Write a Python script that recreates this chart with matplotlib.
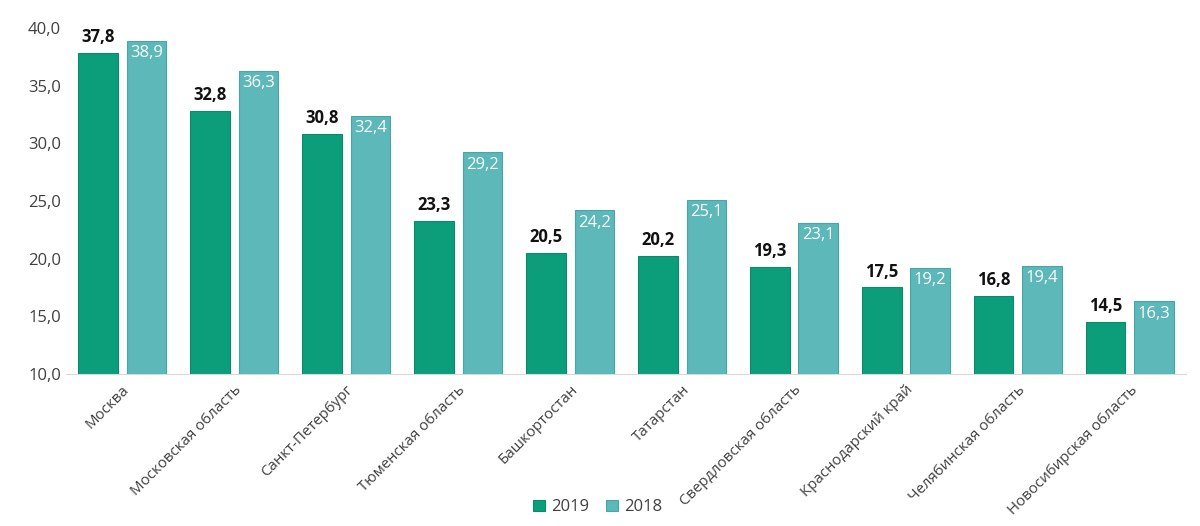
import matplotlib.pyplot as plt
import numpy as np

# data
regions = ["Москва", "Московская область", "Санкт-Петербург", "Тюменская область",
           "Башкортостан", "Татарстан", "Свердловская область", "Краснодарский край",
           "Челябинская область", "Новосибирская область"]
vals_2019 = [37.8, 32.8, 30.8, 23.3, 20.5, 20.2, 19.3, 17.5, 16.8, 14.5]
vals_2018 = [38.9, 36.3, 32.4, 29.2, 24.2, 25.1, 23.1, 19.2, 19.4, 16.3]
yticks = [10, 15, 20, 25, 30, 35, 40]

plt.rcParams['font.family'] = ['Open Sans', 'DejaVu Sans']

dark = "#0c9e7a"
light = "#5cb8b9"

fig = plt.figure(figsize=(12, 5.26), dpi=100)
ax = fig.add_axes([0.055, 0.289, 0.933, 0.658])

x = np.arange(len(regions))
w = 0.355
ax.bar(x - 0.215, np.array(vals_2019) - 10, w, bottom=10, color=dark,
       edgecolor="#0a8a6a", linewidth=0.8, label="2019")
ax.bar(x + 0.22, np.array(vals_2018) - 10, w, bottom=10, color=light,
       edgecolor="#4aa5a6", linewidth=0.8, label="2018")

# value labels: 2019 bold above, 2018 white inside
for xi, v in zip(x, vals_2019):
    ax.text(xi - 0.215, v + 0.6, f"{v:.1f}".replace(".", ","), ha="center", va="bottom",
            fontsize=12, fontweight="bold", color="#111111")
for xi, v in zip(x, vals_2018):
    ax.text(xi + 0.22, v - 0.4, f"{v:.1f}".replace(".", ","), ha="center", va="top",
            fontsize=12, color="white")

ax.set_xlim(-0.5, len(regions) - 0.5)
ax.set_ylim(10, 40)
ax.set_yticks(yticks)
ax.set_yticklabels([f"{t:.1f}".replace(".", ",") for t in yticks], fontsize=12, color="#404040")
ax.set_xticks(x)
ax.set_xticklabels(regions, rotation=45, ha="right", rotation_mode="anchor",
                   fontsize=10.8, color="#404040")
ax.tick_params(axis="both", length=0)
ax.tick_params(axis="x", pad=6)

for s in ["top", "right", "left"]:
    ax.spines[s].set_visible(False)
ax.spines["bottom"].set_color("#d9d9d9")

ax.legend(loc="center", bbox_to_anchor=(0.475, -0.385), ncol=2, frameon=False,
          fontsize=12, handlelength=0.7, handleheight=0.7, handletextpad=0.4,
          columnspacing=1.0, labelcolor="#404040")

fig.savefig("out.png", dpi=100)
